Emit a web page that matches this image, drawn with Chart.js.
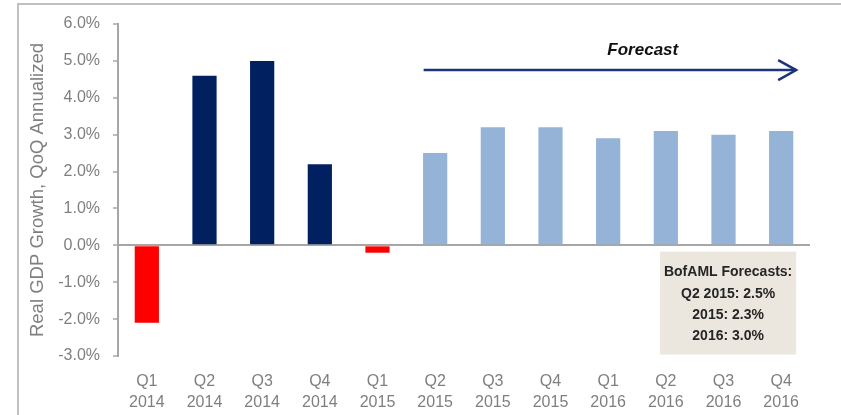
<!DOCTYPE html>
<html>
<head>
<meta charset="utf-8">
<script src="https://cdn.jsdelivr.net/npm/chart.js@4.4.1/dist/chart.umd.min.js"></script>
<style>
  html, body { margin:0; padding:0; background:#fff; }
  #wrap { width:841px; height:415px; position:relative; }
</style>
</head>
<body>
<div id="wrap"><canvas id="gdp"></canvas></div>
<script>
// ─── Data ────────────────────────────────────────────────────────────────────
const quarters = ['Q1','Q2','Q3','Q4','Q1','Q2','Q3','Q4','Q1','Q2','Q3','Q4'];
const years    = ['2014','2014','2014','2014','2015','2015','2015','2015','2016','2016','2016','2016'];
const growth   = [-2.1, 4.6, 5.0, 2.2, -0.2, 2.5, 3.2, 3.2, 2.9, 3.1, 3.0, 3.1];
const kind     = ['neg','act','act','act','neg','fc','fc','fc','fc','fc','fc','fc'];
const yTicks   = [-3, -2, -1, 0, 1, 2, 3, 4, 5, 6];
const boxLines = ['BofAML Forecasts:', 'Q2 2015: 2.5%', '2015: 2.3%', '2016: 3.0%'];
const forecastLabel = 'Forecast';

// ─── Style tokens ────────────────────────────────────────────────────────────
const COL = { neg:'#ff0000', act:'#002060', fc:'#95b3d7', axis:'#a6a6a6', text:'#7f7f7f', navy:'#1b3577' };
const FONT = "'Liberation Sans', Arial, sans-serif";
Chart.defaults.font.family = FONT;

// frame + forecast arrow + summary box
const extras = {
  id:'extras',
  beforeDraw(chart) {
    const c = chart.ctx;
    c.save();
    c.strokeStyle = '#c0c0c0';
    c.lineWidth = 2;
    c.beginPath();
    c.moveTo(18, 420); c.lineTo(18, 4); c.lineTo(850, 4);
    c.stroke();
    c.restore();
  },
  afterDatasetsDraw(chart) {
    const c = chart.ctx, x = chart.scales.x, y = chart.scales.y;
    const step = x.getPixelForValue(1) - x.getPixelForValue(0);
    // arrow
    const x0 = x.getPixelForValue(5) - step * 0.2;
    const x1 = x.getPixelForValue(11) + step * 0.26;
    const ya = y.getPixelForValue(4.75);
    c.save();
    c.strokeStyle = COL.navy;
    c.lineWidth = 2.5;
    c.beginPath(); c.moveTo(x0, ya); c.lineTo(x1, ya); c.stroke();
    c.beginPath(); c.moveTo(x1 - 18, ya - 10); c.lineTo(x1, ya); c.lineTo(x1 - 18, ya + 10); c.stroke();
    c.fillStyle = '#111';
    c.font = "italic bold 17px " + FONT;
    c.textAlign = 'center'; c.textBaseline = 'middle';
    c.fillText(forecastLabel, x.getPixelForValue(8.6), y.getPixelForValue(5.3));
    // box
    const bx0 = x.getPixelForValue(9) - step * 0.1;
    const bx1 = x.getPixelForValue(11) + step * 0.26;
    const by0 = y.getPixelForValue(-0.17);
    const by1 = y.getPixelForValue(-2.96);
    c.fillStyle = '#ebe7de';
    c.fillRect(bx0, by0, bx1 - bx0, by1 - by0);
    c.fillStyle = '#262626';
    c.font = "bold 14px " + FONT;
    const cx = (bx0 + bx1) / 2;
    boxLines.forEach((t, i) => c.fillText(t, cx, by0 + 21 + i * 21.3));
    c.restore();
  }
};

new Chart(document.getElementById('gdp'), {
  type:'bar',
  data:{
    labels: quarters.map((q, i) => [q, years[i]]),
    datasets:[{
      data: growth,
      backgroundColor: kind.map(k => COL[k]),
      categoryPercentage: 1,
      barPercentage: 0.42
    }]
  },
  options:{
    responsive:true, maintainAspectRatio:false, animation:false,
    layout:{ padding:{ top:24, right:31, left:0, bottom:0 } },
    plugins:{ legend:{display:false}, tooltip:{enabled:false} },
    scales:{
      x:{
        grid:{ display:false },
        border:{ display:false },
        ticks:{ color:COL.text, font:{size:16, lineHeight:1.32}, padding:7, maxRotation:0, autoSkip:false },
        afterFit: s => { s.height = 59; }
      },
      y:{
        min:-3, max:6,
        afterBuildTicks: s => { s.ticks = yTicks.map(v => ({ value:v })); },
        grid:{
          color: ctx => ctx.tick && ctx.tick.value === 0 ? COL.axis : 'rgba(0,0,0,0)',
          lineWidth: 2,
          tickColor: COL.axis, tickLength:5, tickWidth:1.5
        },
        border:{ display:true, color:COL.axis, width:2 },
        ticks:{ color:COL.text, font:{size:16}, padding:13, callback:v => v.toFixed(1) + '%' },
        title:{ display:true, text:'Real GDP Growth, QoQ Annualized', color:COL.text, font:{size:18.5}, padding:{top:27, bottom:0} },
        afterFit: s => { s.width = 118; }
      }
    }
  },
  plugins:[extras]
});
</script>
</body>
</html>
